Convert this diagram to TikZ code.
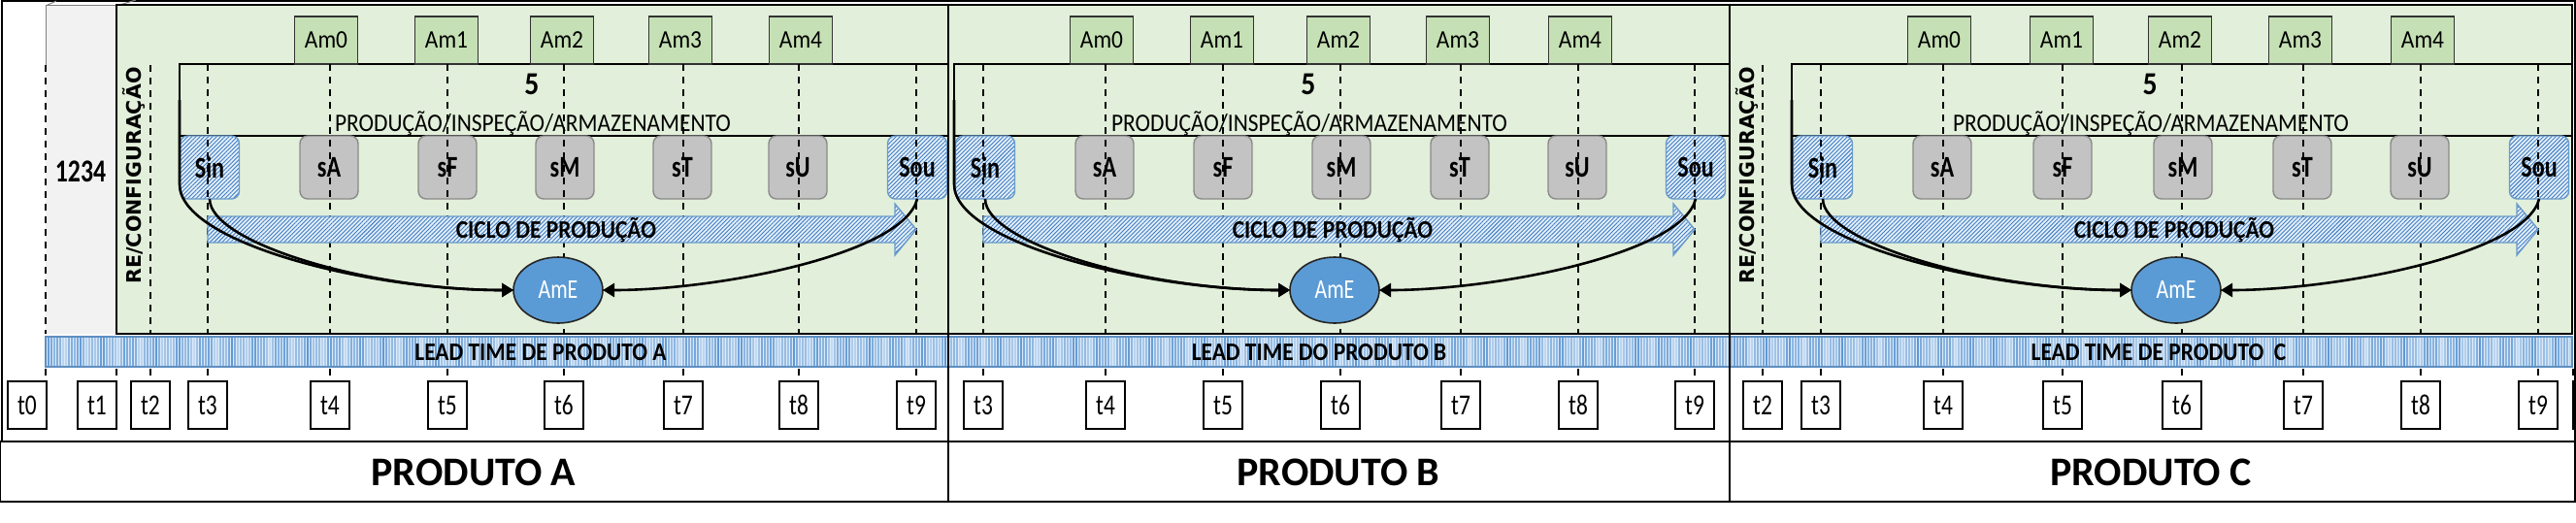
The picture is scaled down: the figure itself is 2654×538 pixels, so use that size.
\documentclass[tikz,border=0pt]{standalone}
\usepackage{fontspec}
\setmainfont{Carlito}[FakeStretch=0.9]
\newfontfamily\cond{Carlito}[FakeStretch=0.78]
\newfontfamily\wide{Carlito}
\newfontfamily\refont{DejaVu Sans}
\usetikzlibrary{arrows.meta,patterns.meta,shapes.geometric}
\definecolor{pgreen}{HTML}{E2EFDA}
\definecolor{amgreen}{HTML}{C5E0B4}
\definecolor{pgrey}{HTML}{F2F2F2}
\definecolor{sgrey}{HTML}{C3C3C3}
\definecolor{sgreyd}{HTML}{8A8A8A}
\definecolor{hbg}{HTML}{E4EFFA}
\definecolor{hline}{HTML}{3E7CC0}
\definecolor{hborder}{HTML}{6A9BCB}
\definecolor{amefill}{HTML}{5B9BD5}
\definecolor{barlight}{HTML}{DCEAF8}
\definecolor{bardark}{HTML}{5B95D2}
\definecolor{barline}{HTML}{5E8FC0}
\begin{document}
\begin{tikzpicture}[x=0.5pt,y=-0.5pt,
  every node/.style={inner sep=0pt, outer sep=0pt},
  fs/.style={font=\fontsize{13}{15}\selectfont},
  ambox/.style={draw=black!80, fill=amgreen, line width=0.7pt, minimum width=32.5pt, minimum height=24.5pt, font=\fontsize{13}{15}\selectfont},
  sbox/.style={draw=sgreyd, fill=sgrey, rounded corners=4pt, line width=0.7pt, minimum width=30pt, minimum height=32.5pt, font=\cond\bfseries\fontsize{15.5}{17}\selectfont},
  hatch/.style={preaction={fill=hbg}, pattern={Lines[angle=45,distance=1.5pt,line width=0.45pt]}, pattern color=hline, draw=hborder, line width=0.7pt},
  iobox/.style={hatch, rounded corners=4pt, minimum width=30.5pt, minimum height=32.5pt, font=\cond\bfseries\fontsize{15.5}{17}\selectfont},
  tbox/.style={draw=black, fill=white, line width=0.7pt, minimum width=20pt, minimum height=24.5pt, font=\cond\fontsize{15}{17}\selectfont},
  guide/.style={draw=black, line width=0.6pt, dash pattern=on 3.5pt off 3pt},
  flow/.style={draw=black, line width=1.3pt, -{Triangle[length=6pt,width=7pt]}},
  amenode/.style={ellipse, draw=black!85, fill=amefill, line width=0.8pt, minimum width=46pt, minimum height=34pt, text=white, font=\cond\fontsize{14}{16}\selectfont},
  btxt/.style={font=\bfseries\fontsize{13}{15}\selectfont},
  prodtxt/.style={font=\wide\bfseries\fontsize{21}{24}\selectfont},
  retxt/.style={font=\refont\bfseries\fontsize{10.3}{12}\selectfont, rotate=90}
]
\useasboundingbox (0,0) rectangle (2654,538);
% outer frame and product rows
\draw[line width=0.7pt] (2,1) rectangle (2653,455);
\draw[line width=0.7pt] (0,455) rectangle (977,517);
\draw[line width=0.7pt] (977,455) rectangle (1782,517);
\draw[line width=0.7pt] (1782,455) rectangle (2653,517);
\node[prodtxt] (prodA) at (488,487) {PRODUTO A};
\node[prodtxt] (prodB) at (1379,487) {PRODUTO B};
\node[prodtxt] (prodC) at (2216,487) {PRODUTO C};
% grey and green panels
\fill[pgrey] (47,5) rectangle (120,344);
\draw[black!50, line width=0.5pt] (47,67) -- (47,5) -- (120,5);
\draw[black!50, line width=0.5pt] (47,6) -- (58,1) (120,6) -- (140,0);
\draw[fill=pgreen, line width=0.7pt] (120,5) rectangle (977,344);
\draw[fill=pgreen, line width=0.7pt] (977,5) rectangle (1782,344);
\draw[fill=pgreen, line width=0.7pt] (1782,5) rectangle (2650,344);
% lead time bar
\fill[barlight] (47,347) rectangle (2650,378);
\foreach \i in {0,...,867}{
  \edef\anga{\the\numexpr \i*41 - 360*((\i*41-180)/360)\relax}
  \edef\angb{\the\numexpr \i*97 - 360*((\i*97-180)/360)\relax}
  \pgfmathsetmacro\p{int(58+22*sin(\anga)+18*sin(\angb))}
  \draw[draw=bardark!\p!barlight, line width=0.8pt] ({47+3*\i},347.5) -- ({47+3*\i},377.5);
}
\draw[barline, line width=0.7pt] (47,347) rectangle (2650,378);
\node[btxt] (ltA) at (557,363) {LEAD TIME DE PRODUTO A};
\node[btxt] (ltB) at (1359,363) {LEAD TIME DO PRODUTO B};
\node[btxt] (ltC) at (2224,363) {LEAD TIME DE PRODUTO~ C};
% left column
\node[font=\cond\bfseries\fontsize{16.5}{18}\selectfont] (id) at (83,177) {1234};
\node[retxt] (reA) at (138,181) {RE/CONFIGURAÇÃO};
\node[retxt] (reC) at (1800,181) {RE/CONFIGURAÇÃO};
\foreach \t in {47,155,1816}{
  \draw[guide] (\t,67) -- (\t,344);
}
\foreach \t in {47,120,155,1816}{
  \draw[guide] (\t,380) -- (\t,393);
}
\node[tbox] (t0A) at (28,417.5) {t0};
\node[tbox] (t1A) at (100,417.5) {t1};
\node[tbox] (t2A) at (155,417.5) {t2};
\node[tbox] (t2C) at (1816,417.5) {t2};
\draw[line width=0.7pt] (2654,393) -- (2651,393) -- (2651,442) -- (2654,442);
\draw[guide] (2651,380) -- (2651,393);
% panels
\foreach \P/\ta/\tb/\tc/\td/\te/\tf/\tg/\fl/\pr in {A/214/340/461/581/704/823/944/185/977,B/1013/1139/1260/1381/1505/1626/1746/983/1782,C/1876/2002/2125/2248/2373/2494/2615/1846/2650}{
  \draw[line width=0.8pt] (\pr,66) -- (\fl,66) -- (\fl,140) -- (\pr,140);
  \node[ambox] (am0\P) at ({\tb-4},41.5) {Am0};
  \node[ambox] (am1\P) at ({\tc-1},41.5) {Am1};
  \node[ambox] (am2\P) at ({\td-2},41.5) {Am2};
  \node[ambox] (am3\P) at ({\te-3},41.5) {Am3};
  \node[ambox] (am4\P) at ({\tf+2},41.5) {Am4};
  \node[font=\bfseries\fontsize{16.5}{18}\selectfont] (five\P) at ({\td-33},87) {5};
  \node[fs] (pia\P) at ({\td-32},127) {PRODUÇÃO/INSPEÇÃO/ARMAZENAMENTO};
  \node[iobox] (sin\P) at ({\ta+2},172.5) {Sin};
  \node[sbox] (sa\P) at ({\tb-1},172.5) {sA};
  \node[sbox] (sf\P) at ({\tc},172.5) {sF};
  \node[sbox] (sm\P) at ({\td+1},172.5) {sM};
  \node[sbox] (st\P) at ({\te-1},172.5) {sT};
  \node[sbox] (su\P) at ({\tf-1},172.5) {sU};
  \node[iobox] (sou\P) at ({\tg+1},172.5) {Sou};
  \foreach \t in {\ta,\tb,\tc,\td,\te,\tf,\tg}{
    \draw[guide] (\t,66) -- (\t,344);
    \draw[guide] (\t,380) -- (\t,393);
  }
  \node[tbox] (t3\P) at (\ta,417.5) {t3};
  \node[tbox] (t4\P) at (\tb,417.5) {t4};
  \node[tbox] (t5\P) at (\tc,417.5) {t5};
  \node[tbox] (t6\P) at (\td,417.5) {t6};
  \node[tbox] (t7\P) at (\te,417.5) {t7};
  \node[tbox] (t8\P) at (\tf,417.5) {t8};
  \node[tbox] (t9\P) at (\tg,417.5) {t9};
  \draw[hatch] (\ta,223) -- ({\tg-22},223) -- ({\tg-22},210) -- (\tg,236.5) -- ({\tg-22},263) -- ({\tg-22},250) -- (\ta,250) -- cycle;
  \node[btxt] (ciclo\P) at ({\td-8},237) {CICLO DE PRODUÇÃO};
  \node[amenode] (ame\P) at ({\td-6},299) {AmE};
  \coordinate (cs\P) at (\fl,103);
  \draw[flow] (cs\P) -- ++(0,87) .. controls +(0,60) and +(-150,0) .. (ame\P.west);
  \draw[flow] (sin\P.south) .. controls +(0,45) and +(-150,0) .. (ame\P.west);
  \draw[flow] (sou\P.south) .. controls +(-14,57) and +(119,0) .. (ame\P.east);
}
% panel borders
\draw[line width=1pt] (120,5) -- (120,344);
\draw[line width=1.1pt] (977,5) -- (977,455);
\draw[line width=1.1pt] (1782,5) -- (1782,455);
\draw[line width=0.8pt] (2650,5) -- (2650,344);
\end{tikzpicture}
\end{document}
